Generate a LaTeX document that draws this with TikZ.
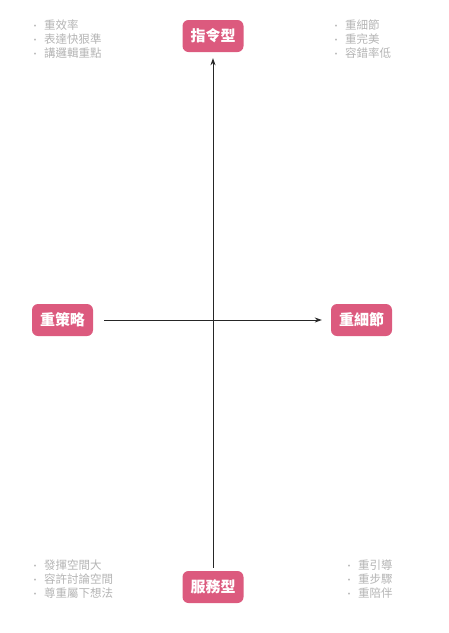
\documentclass[tikz,border=0pt]{standalone}
\usepackage{fontspec}
\usepackage{tikz}
\usetikzlibrary{arrows.meta}
\newfontfamily\cjk{Noto Sans CJK TC}
\definecolor{quadpink}{HTML}{DC5A7E}
\definecolor{notegray}{HTML}{B4B4B4}
\newcommand{\dotmark}{\makebox[11.5pt][l]{\hspace{-2pt}\fontsize{9}{9}\selectfont •}}

\begin{document}
\begin{tikzpicture}[x=1pt,y=-1pt]
	\tikzstyle{every node}+=[inner sep=0pt]
	\tikzstyle{quadbox}=[fill=quadpink, rounded corners=6pt, minimum width=61pt, minimum height=32pt, text=white, font=\cjk\bfseries\fontsize{15}{15}\selectfont]
	\tikzstyle{notelist}=[anchor=north west, align=left, text=notegray, font=\cjk\fontsize{11.5}{13.6}\selectfont]
	\tikzstyle{axis}=[draw=black!85, line width=0.8pt, -{Stealth[length=7pt,width=5pt]}]
	\useasboundingbox (0,0) rectangle (448,633);
	% four ends of the axes
	\node [quadbox] (command) at (213,36) {指令型};
	\node [quadbox] (service) at (213,587) {服務型};
	\node [quadbox] (strategy) at (62.5,320) {重策略};
	\node [quadbox] (detail) at (361.5,320) {重細節};
	% axes
	\draw [axis, shorten <=3pt, shorten >=6pt] (service.north) -- (command.south);
	\draw [axis, shorten <=11pt, shorten >=9pt] (strategy.east) -- (detail.west);
	% notes in the corners
	\node [notelist] (noteTL) at (32.5,20) {\dotmark 重效率\\ \dotmark 表達快狠準\\ \dotmark 講邏輯重點};
	\node [notelist] (noteTR) at (333.5,20) {\dotmark 重細節\\ \dotmark 重完美\\ \dotmark 容錯率低};
	\node [notelist] (noteBL) at (32.5,560) {\dotmark 發揮空間大\\ \dotmark 容許討論空間\\ \dotmark 尊重屬下想法};
	\node [notelist] (noteBR) at (346.5,560) {\dotmark 重引導\\ \dotmark 重步驟\\ \dotmark 重陪伴};
\end{tikzpicture}
\end{document}
